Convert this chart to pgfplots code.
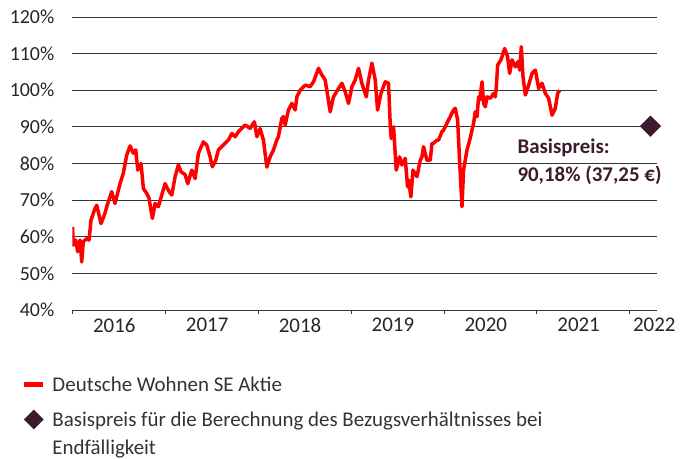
\documentclass[border=0pt]{standalone}
\usepackage{fontspec}
\setmainfont{Carlito}
\usepackage{pgfplots}
\pgfplotsset{compat=1.18}
\usetikzlibrary{calc}
\definecolor{dwred}{HTML}{FF0000}
\definecolor{bpurple}{HTML}{3E1A2E}
\begin{document}
\begin{tikzpicture}
\begin{axis}[
  scale only axis, width=584.5bp, height=293bp,
  xmin=2016, xmax=2022.294, ymin=40, ymax=120,
  clip mode=individual,
  font=\fontsize{21}{29}\selectfont,
  /pgf/number format/assume math mode=true,
  axis line style={draw=none},
  ytick={40,50,...,120},
  yticklabel={\pgfmathprintnumber{\tick}\%},
  ymajorgrids, major grid style={black!80, line width=0.8bp},
  xtick={2016,...,2022}, xticklabels={},
  xtick pos=bottom, ytick pos=left,
  tick align=outside,
  major tick length=4bp,
  x tick style={black!80, line width=0.8bp},
  y tick style={draw=none},
  y tick label style={inner sep=0pt, anchor=east, xshift=-14bp, text=black!85, font=\fontsize{20}{24}\selectfont},
  x tick label style={inner sep=0pt, anchor=north, yshift=-8bp, text=black!85},
  extra x ticks={2016.45,2017.45,2018.45,2019.45,2020.45,2021.45,2022.265},
  extra x tick labels={2016,2017,2018,2019,2020,2021,2022},
  extra x tick style={major tick length=0pt, tick style={draw=none}},
  legend style={draw=none, fill=none, inner sep=0pt, outer sep=0pt,
    at={(axis description cs:-0.0864,-0.227)}, anchor=north west,
    row sep=17.5bp, column sep=7bp, cells={anchor=west},
    nodes={inner sep=0pt, text=black!80}},
]
\addplot[dwred, line width=3.5bp, line join=round,
  legend image code/.code={\draw[dwred, line width=4.5bp] (0bp,0bp) -- (19bp,0bp);}]
  table[row sep=\\] {
x y\\
2016.000 62.7\\ 2016.009 57.7\\ 2016.034 59.1\\ 2016.056 55.9\\ 2016.081 59.1\\
2016.099 53.1\\ 2016.116 58.6\\ 2016.153 59.5\\ 2016.178 59.1\\ 2016.199 64.5\\
2016.242 67.7\\ 2016.261 68.6\\ 2016.307 63.6\\ 2016.343 65.9\\ 2016.369 68.2\\
2016.422 72.3\\ 2016.458 69.1\\ 2016.512 74.5\\ 2016.547 77.3\\ 2016.584 82.3\\
2016.620 84.8\\ 2016.655 82.8\\ 2016.681 83.7\\ 2016.703 78.2\\ 2016.738 80.0\\
2016.763 73.2\\ 2016.800 71.8\\ 2016.824 70.5\\ 2016.860 65.0\\ 2016.889 69.1\\
2016.925 68.2\\ 2016.961 71.4\\ 2016.997 74.5\\ 2017.040 72.3\\ 2017.069 71.4\\
2017.105 76.4\\ 2017.140 79.6\\ 2017.169 77.7\\ 2017.212 77.0\\ 2017.241 74.5\\
2017.285 78.2\\ 2017.320 75.9\\ 2017.356 82.8\\ 2017.409 85.9\\ 2017.446 85.0\\
2017.482 81.8\\ 2017.506 79.1\\ 2017.543 80.9\\ 2017.571 83.7\\ 2017.608 84.6\\
2017.643 85.5\\ 2017.679 86.4\\ 2017.716 88.2\\ 2017.751 87.3\\ 2017.787 88.7\\
2017.823 89.6\\ 2017.859 90.5\\ 2017.913 89.6\\ 2017.959 91.4\\ 2017.985 87.3\\
2018.020 89.5\\ 2018.056 86.4\\ 2018.093 79.0\\ 2018.128 81.8\\ 2018.164 83.7\\
2018.200 86.4\\ 2018.217 87.3\\ 2018.254 92.3\\ 2018.272 92.8\\ 2018.290 90.5\\
2018.325 94.6\\ 2018.362 96.4\\ 2018.398 94.6\\ 2018.416 98.2\\ 2018.452 100.0\\
2018.506 101.4\\ 2018.559 101.0\\ 2018.595 102.3\\ 2018.649 106.0\\ 2018.685 104.2\\
2018.721 102.8\\ 2018.775 94.1\\ 2018.810 98.2\\ 2018.853 100.0\\ 2018.901 101.9\\
2018.936 99.6\\ 2018.972 96.4\\ 2019.009 101.0\\ 2019.044 102.8\\ 2019.080 106.0\\
2019.116 101.9\\ 2019.163 98.2\\ 2019.188 102.8\\ 2019.224 107.4\\ 2019.260 102.8\\
2019.285 94.6\\ 2019.321 99.1\\ 2019.368 102.3\\ 2019.403 101.9\\ 2019.421 90.9\\
2019.432 86.8\\ 2019.457 90.0\\ 2019.486 78.2\\ 2019.522 81.8\\ 2019.547 79.6\\
2019.583 81.4\\ 2019.608 73.6\\ 2019.619 75.5\\ 2019.644 70.9\\ 2019.666 78.2\\
2019.709 76.4\\ 2019.745 80.9\\ 2019.763 81.8\\ 2019.780 84.6\\ 2019.817 80.9\\
2019.852 80.9\\ 2019.871 85.5\\ 2019.888 85.5\\ 2019.925 86.4\\ 2019.942 86.4\\
2019.978 88.7\\ 2019.996 89.1\\ 2020.032 91.0\\ 2020.050 91.9\\ 2020.068 92.8\\
2020.103 94.6\\ 2020.122 95.1\\ 2020.147 91.9\\ 2020.168 80.9\\ 2020.194 68.2\\
2020.211 78.2\\ 2020.248 83.7\\ 2020.283 87.0\\ 2020.319 91.0\\ 2020.337 94.1\\
2020.356 92.8\\ 2020.373 98.2\\ 2020.384 97.3\\ 2020.410 102.3\\ 2020.427 96.4\\
2020.445 95.5\\ 2020.463 98.2\\ 2020.499 97.8\\ 2020.534 99.1\\ 2020.553 98.2\\
2020.564 101.0\\ 2020.578 106.9\\ 2020.614 108.3\\ 2020.653 111.4\\ 2020.685 109.2\\
2020.707 104.6\\ 2020.733 108.3\\ 2020.768 106.4\\ 2020.797 107.8\\ 2020.815 105.5\\
2020.833 111.9\\ 2020.851 103.7\\ 2020.876 98.7\\ 2020.912 101.4\\ 2020.948 104.6\\
2020.984 105.5\\ 2021.020 100.5\\ 2021.056 101.9\\ 2021.092 99.1\\ 2021.127 97.8\\
2021.164 93.2\\ 2021.199 95.1\\ 2021.224 99.1\\ 2021.246 100.0\\
};
\addlegendentry{Deutsche Wohnen SE Aktie}
\addplot[only marks, mark=square*, mark size=7.3bp,
  mark options={rotate=45, fill=bpurple, draw=bpurple},
  legend image code/.code={\draw[mark=square*, mark size=6.7bp, mark options={rotate=45, fill=bpurple, draw=bpurple}] plot coordinates {(9.5bp,0bp)};}]
  coordinates {(2022.223,90.18)};
\addlegendentry{\smash{\rlap{\raisebox{-28bp}{Endfälligkeit}}}Basispreis für die Berechnung des Bezugsverhältnisses bei}
\node[anchor=west, align=left, font=\bfseries\fontsize{21}{28}\selectfont, text=bpurple, inner sep=0pt]
  at (axis cs:2020.79,80.4) {Basispreis:\\90,18\% (37,25~€)};
\end{axis}
\pgfresetboundingbox
\path[use as bounding box] ($(current axis.south west)+(-72.5bp,-149bp)$) rectangle ($(current axis.north east)+(32bp,17bp)$);
\end{tikzpicture}
\end{document}
